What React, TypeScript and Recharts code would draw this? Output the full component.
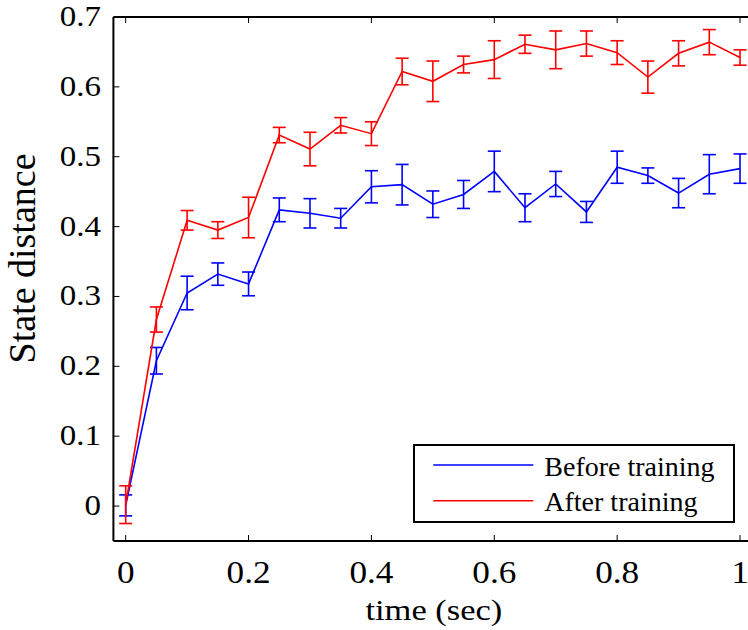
import { ErrorBar, Legend, Line, LineChart, XAxis, YAxis } from "recharts";

const times = [0, 0.05, 0.1, 0.15, 0.2, 0.25, 0.3, 0.35, 0.4, 0.45, 0.5, 0.55, 0.6, 0.65, 0.7, 0.75, 0.8, 0.85, 0.9, 0.95, 1];
const before = [0.001, 0.208, 0.305, 0.332, 0.318, 0.424, 0.419, 0.412, 0.457, 0.46, 0.432, 0.446, 0.479, 0.427, 0.461, 0.421, 0.485, 0.473, 0.448, 0.475, 0.483];
const beforeErr = [0.015, 0.019, 0.024, 0.016, 0.017, 0.017, 0.021, 0.014, 0.023, 0.029, 0.019, 0.02, 0.029, 0.02, 0.018, 0.015, 0.023, 0.011, 0.021, 0.028, 0.021];
const after = [0.002, 0.267, 0.409, 0.395, 0.413, 0.531, 0.511, 0.545, 0.533, 0.622, 0.608, 0.632, 0.639, 0.661, 0.653, 0.662, 0.649, 0.614, 0.648, 0.664, 0.642];
const afterErr = [0.027, 0.018, 0.014, 0.012, 0.029, 0.011, 0.024, 0.011, 0.017, 0.019, 0.029, 0.012, 0.027, 0.013, 0.027, 0.018, 0.017, 0.023, 0.018, 0.018, 0.011];

const seriesNames = ["Before training", "After training"];
const xTicks = [0, 0.2, 0.4, 0.6, 0.8, 1];
const yTicks = [0, 0.1, 0.2, 0.3, 0.4, 0.5, 0.6, 0.7];

const data = times.map((t, i) => ({
  t,
  before: before[i],
  beforeErr: beforeErr[i],
  after: after[i],
  afterErr: afterErr[i],
}));

const FONT = '"Liberation Serif", "Times New Roman", serif';

const BottomTick = (props: any) => {
  const { x, y, payload } = props;
  return (
    <g>
      <line x1={x} x2={x} y1={y} y2={y - 6} stroke="#000" strokeWidth={1} />
      <text transform={`translate(${x},${y + 42}) scale(1.1,1)`} textAnchor="middle"
        fontFamily={FONT} fontSize={32} fill="#000">{payload.value}</text>
    </g>
  );
};

const TopTick = (props: any) => {
  const { x, y } = props;
  return <line x1={x} x2={x} y1={y} y2={y + 6} stroke="#000" strokeWidth={1} />;
};

const LeftTick = (props: any) => {
  const { x, y, payload } = props;
  return (
    <g>
      <line x1={x} x2={x + 6} y1={y} y2={y} stroke="#000" strokeWidth={1} />
      <text transform={`translate(${x - 12.5},${y + 9}) scale(1.1,1)`} textAnchor="end"
        fontFamily={FONT} fontSize={30} fill="#000">{payload.value}</text>
    </g>
  );
};

const RightTick = (props: any) => {
  const { x, y } = props;
  return <line x1={x} x2={x - 6} y1={y} y2={y} stroke="#000" strokeWidth={1} />;
};

const XLabel = (props: any) => {
  const vb = props.viewBox;
  return (
    <text transform={`translate(${vb.x + vb.width / 2 + 1},${vb.y + 79}) scale(1.15,1)`}
      textAnchor="middle" fontFamily={FONT} fontSize={30} fill="#000">time (sec)</text>
  );
};

const YLabel = (props: any) => {
  const vb = props.viewBox;
  return (
    <text transform={`translate(${vb.x - 77},${vb.y + 241.5}) rotate(-90)`}
      textAnchor="middle" fontFamily={FONT} fontSize={38} fill="#000">State distance</text>
  );
};

const LegendBox = (props: any) => {
  const items = [...(props.payload || [])].sort(
    (a: any, b: any) => seriesNames.indexOf(a.value) - seriesNames.indexOf(b.value)
  );
  return (
    <div style={{ width: 322, height: 79, boxSizing: "border-box", border: "2px solid #000", background: "#fff" }}>
      <svg width={318} height={75} style={{ display: "block" }}>
        {items.map((p: any, i: number) => (
          <g key={p.value}>
            <line x1={18.3} x2={118.3} y1={19 + i * 35.7} y2={19 + i * 35.7} stroke={p.color} strokeWidth={1.6} />
            <text x={129.3} y={29.5 + i * 35.7} fontFamily={FONT} fontSize={28} fill="#000">{p.value}</text>
          </g>
        ))}
      </svg>
    </div>
  );
};

export default function App() {
  return (
    <div style={{ position: "fixed", left: 0, top: 0, width: 748, height: 630, overflow: "hidden", background: "#fff" }}>
      <LineChart width={760} height={630} data={data}
        margin={{ top: 16, right: 6.7, left: 112.4, bottom: 88 }}>
        <XAxis dataKey="t" type="number" domain={[-0.02, 1.02]} ticks={xTicks} height={1}
          tickSize={0} tickMargin={0} tickLine={false} tick={BottomTick}
          axisLine={{ stroke: "#000", strokeWidth: 2 }} label={<XLabel />} interval={0} />
        <XAxis xAxisId="top" orientation="top" dataKey="t" type="number" domain={[-0.02, 1.02]} ticks={xTicks}
          height={1} tickSize={0} tickMargin={0} tickLine={false} tick={TopTick}
          axisLine={{ stroke: "#000", strokeWidth: 2 }} interval={0} />
        <YAxis type="number" domain={[-0.05, 0.7]} ticks={yTicks} width={1}
          tickSize={0} tickMargin={0} tickLine={false} tick={LeftTick}
          axisLine={{ stroke: "#000", strokeWidth: 2 }} label={<YLabel />} interval={0} />
        <YAxis yAxisId="right" orientation="right" type="number" domain={[-0.05, 0.7]} ticks={yTicks} width={1}
          tickSize={0} tickMargin={0} tickLine={false} tick={RightTick}
          axisLine={{ stroke: "#000", strokeWidth: 2 }} interval={0} />
        <Legend layout="horizontal" verticalAlign="middle" align="center" width={322} height={79}
          wrapperStyle={{ left: 412.7, top: 444, width: 322, height: 79 }} content={<LegendBox />} />
        <Line type="linear" dataKey="before" name="Before training" stroke="#0000ff" strokeWidth={1.6}
          dot={false} activeDot={false} isAnimationActive={false}>
          <ErrorBar dataKey="beforeErr" direction="y" width={6.5} stroke="#0000ff" strokeWidth={1.6} isAnimationActive={false} />
        </Line>
        <Line type="linear" dataKey="after" name="After training" stroke="#ff0000" strokeWidth={1.6}
          dot={false} activeDot={false} isAnimationActive={false}>
          <ErrorBar dataKey="afterErr" direction="y" width={6.5} stroke="#ff0000" strokeWidth={1.6} isAnimationActive={false} />
        </Line>
      </LineChart>
    </div>
  );
}
